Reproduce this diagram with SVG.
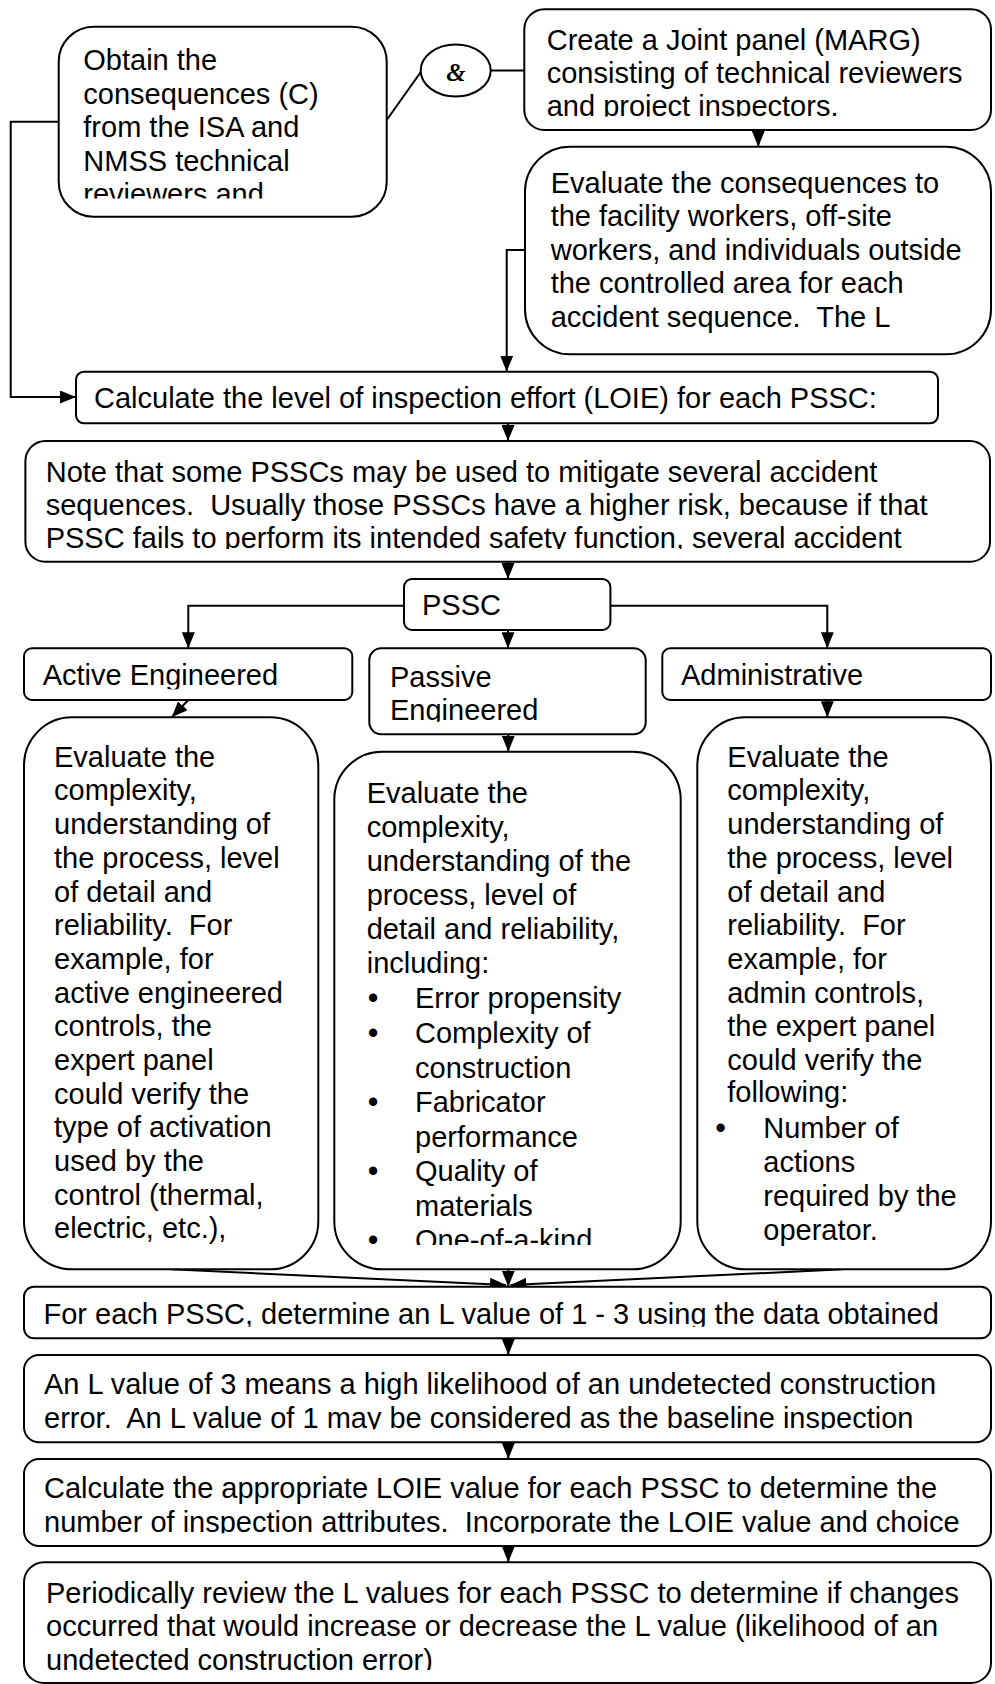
<svg xmlns="http://www.w3.org/2000/svg" width="995" height="1684" viewBox="0 0 995 1684">
<style>
.box{fill:#fff;stroke:#000;stroke-width:2}
.t{font-family:"Liberation Sans",Arial,sans-serif;font-size:29px;fill:#000}
.b{font-weight:bold}
.ln{fill:none;stroke:#000;stroke-width:2}
.ar{fill:none;stroke:#000;stroke-width:2;marker-end:url(#ah)}
</style>
<defs>
<marker id="ah" markerWidth="16" markerHeight="13" refX="16" refY="6.5" orient="auto" markerUnits="userSpaceOnUse"><path d="M0,0 L16,6.5 L0,13 z" fill="#000"/></marker>
<clipPath id="cObtain"><rect x="58" y="26" width="330" height="172.5"/></clipPath>
<clipPath id="cCreate"><rect x="524" y="9" width="468" height="107.5"/></clipPath>
<clipPath id="cNote"><rect x="25" y="441" width="966" height="108"/></clipPath>
<clipPath id="cActive"><rect x="24" y="648" width="329" height="41.3"/></clipPath>
<clipPath id="cPassive"><rect x="369" y="648" width="277" height="73.7"/></clipPath>
<clipPath id="cPassEval"><rect x="334" y="751" width="347" height="494"/></clipPath>
<clipPath id="cForEach"><rect x="24" y="1286" width="967" height="40.7"/></clipPath>
<clipPath id="cAnL"><rect x="24" y="1355" width="967" height="74.3"/></clipPath>
<clipPath id="cCalcApp"><rect x="24" y="1459" width="967" height="74.3"/></clipPath>
<clipPath id="cPeriodic"><rect x="24" y="1562" width="967" height="108"/></clipPath>
</defs>
<rect x="0" y="0" width="995" height="1684" fill="#fff"/>

<g id="connectors">
<path class="ln" d="M386.7,120 L421.5,71"/>
<path class="ln" d="M490.7,70.5 H524.3"/>
<path class="ar" d="M758.3,130 V146.7"/>
<path class="ar" d="M525,250 H506.7 V371.7"/>
<path class="ar" d="M58.7,121.7 H10.7 V397 H76"/>
<path class="ar" d="M508,423.3 V441"/>
<path class="ar" d="M508,561.7 V579"/>
<path class="ar" d="M404,605.7 H188.3 V648.3"/>
<path class="ar" d="M508,630 V648.3"/>
<path class="ar" d="M610.4,605.7 H827.3 V648.3"/>
<path class="ar" d="M188.3,700 L171.7,717.3"/>
<path class="ar" d="M508.3,734.3 V751.7"/>
<path class="ar" d="M827.3,700 V717.3"/>
<path class="ar" d="M171,1269.3 L506,1285"/>
<path class="ar" d="M508.3,1269.3 V1286.7"/>
<path class="ar" d="M843.3,1269.3 L510.5,1285"/>
<path class="ar" d="M508.3,1338.3 V1355"/>
<path class="ar" d="M508.3,1442.3 V1459"/>
<path class="ar" d="M508.3,1546 V1562.3"/>
</g>

<g id="obtain">
<rect class="box" x="58.7" y="26.7" width="328" height="190" rx="35"/>
<text class="t" clip-path="url(#cObtain)"><tspan x="83.3" y="70">Obtain the</tspan><tspan x="83.3" y="103.5">consequences (C)</tspan><tspan x="83.3" y="137">from the ISA and</tspan><tspan x="83.3" y="170.5">NMSS technical</tspan><tspan x="83.3" y="204">reviewers and</tspan></text>
</g>

<g id="and">
<ellipse class="box" cx="455.7" cy="70.5" rx="35" ry="26"/>
<text x="456" y="81" text-anchor="middle" style="font-family:'Liberation Serif',serif;font-style:italic;font-weight:bold;font-size:25px;fill:#000">&amp;</text>
</g>

<g id="create">
<rect class="box" x="524.3" y="9.3" width="466.7" height="120.7" rx="20"/>
<text class="t" clip-path="url(#cCreate)"><tspan x="546.7" y="49.8">Create a Joint panel (MARG)</tspan><tspan x="546.7" y="83">consisting of technical reviewers</tspan><tspan x="546.7" y="116">and project inspectors.</tspan></text>
</g>

<g id="evalc">
<rect class="box" x="525" y="146.7" width="466" height="207.6" rx="45"/>
<text class="t"><tspan x="550.7" y="192.7">Evaluate the consequences to</tspan><tspan x="550.7" y="226.2">the facility workers, off-site</tspan><tspan x="550.7" y="259.7">workers, and individuals outside</tspan><tspan x="550.7" y="293.2">the controlled area for each</tspan><tspan x="550.7" y="326.7">accident sequence.&#160; The L</tspan></text>
</g>

<g id="calc">
<rect class="box" x="76" y="371.7" width="862" height="51.6" rx="8"/>
<text class="t" x="94" y="408">Calculate the level of inspection effort (LOIE) for each PSSC:</text>
</g>

<g id="note">
<rect class="box" x="25.4" y="441" width="964.6" height="120.7" rx="20"/>
<text class="t" clip-path="url(#cNote)"><tspan x="45.7" y="481.7">Note that some PSSCs may be used to mitigate several accident</tspan><tspan x="45.7" y="515.2">sequences.&#160; Usually those PSSCs have a higher risk, because if that</tspan><tspan x="45.7" y="548.3">PSSC fails to perform its intended safety function, several accident</tspan></text>
</g>

<g id="pssc">
<rect class="box" x="404" y="579" width="206.4" height="51" rx="8"/>
<text class="t" x="422" y="615">PSSC</text>
</g>

<g id="active">
<rect class="box" x="24" y="648.3" width="328.3" height="51.7" rx="8"/>
<text class="t" x="42.7" y="685" clip-path="url(#cActive)">Active Engineered</text>
</g>

<g id="passive">
<rect class="box" x="369.3" y="648.3" width="276.4" height="86" rx="12"/>
<text class="t" clip-path="url(#cPassive)"><tspan x="390" y="686.7">Passive</tspan><tspan x="390" y="720">Engineered</tspan></text>
</g>

<g id="admin">
<rect class="box" x="662.3" y="648.3" width="328.7" height="51.7" rx="8"/>
<text class="t" x="681" y="685">Administrative</text>
</g>

<g id="active-eval">
<rect class="box" x="24" y="717.3" width="294.3" height="552" rx="48"/>
<text class="t"><tspan x="54" y="766.7">Evaluate the</tspan><tspan x="54" y="800.4">complexity,</tspan><tspan x="54" y="834.1">understanding of</tspan><tspan x="54" y="867.8">the process, level</tspan><tspan x="54" y="901.5">of detail and</tspan><tspan x="54" y="935.2">reliability.&#160; For</tspan><tspan x="54" y="968.8">example, for</tspan><tspan x="54" y="1002.5">active engineered</tspan><tspan x="54" y="1036.2">controls, the</tspan><tspan x="54" y="1069.9">expert panel</tspan><tspan x="54" y="1103.6">could verify the</tspan><tspan x="54" y="1137.3">type of activation</tspan><tspan x="54" y="1171">used by the</tspan><tspan x="54" y="1204.7">control (thermal,</tspan><tspan x="54" y="1238.3">electric, etc.),</tspan></text>
</g>

<g id="passive-eval">
<rect class="box" x="334.3" y="751.7" width="346.4" height="517.6" rx="48"/>
<text class="t" clip-path="url(#cPassEval)"><tspan x="366.7" y="803.3">Evaluate the</tspan><tspan x="366.7" y="837.2">complexity,</tspan><tspan x="366.7" y="871.1">understanding of the</tspan><tspan x="366.7" y="905">process, level of</tspan><tspan x="366.7" y="938.9">detail and reliability,</tspan><tspan x="366.7" y="972.7">including:</tspan><tspan class="b" x="368" y="1008.3">•</tspan><tspan x="415" y="1008.3">Error propensity</tspan><tspan class="b" x="368" y="1042.9">•</tspan><tspan x="415" y="1042.9">Complexity of</tspan><tspan x="415" y="1077.5">construction</tspan><tspan class="b" x="368" y="1112">•</tspan><tspan x="415" y="1112">Fabricator</tspan><tspan x="415" y="1146.6">performance</tspan><tspan class="b" x="368" y="1181.2">•</tspan><tspan x="415" y="1181.2">Quality of</tspan><tspan x="415" y="1215.7">materials</tspan><tspan class="b" x="368" y="1250.3">•</tspan><tspan x="415" y="1250.3">One-of-a-kind</tspan></text>
</g>

<g id="admin-eval">
<rect class="box" x="697.3" y="717.3" width="293.7" height="552" rx="48"/>
<text class="t"><tspan x="727.3" y="766.7">Evaluate the</tspan><tspan x="727.3" y="800.4">complexity,</tspan><tspan x="727.3" y="834.1">understanding of</tspan><tspan x="727.3" y="867.8">the process, level</tspan><tspan x="727.3" y="901.5">of detail and</tspan><tspan x="727.3" y="935.2">reliability.&#160; For</tspan><tspan x="727.3" y="968.8">example, for</tspan><tspan x="727.3" y="1002.5">admin controls,</tspan><tspan x="727.3" y="1036.2">the expert panel</tspan><tspan x="727.3" y="1069.9">could verify the</tspan><tspan x="727.3" y="1102">following:</tspan><tspan class="b" x="715.4" y="1138.3">•</tspan><tspan x="763.3" y="1138.3">Number of</tspan><tspan x="763.3" y="1172">actions</tspan><tspan x="763.3" y="1206.3">required by the</tspan><tspan x="763.3" y="1240">operator.</tspan></text>
</g>

<g id="foreach">
<rect class="box" x="24" y="1286.7" width="967" height="51.6" rx="10"/>
<text class="t" x="43.5" y="1324" clip-path="url(#cForEach)">For each PSSC, determine an L value of 1 - 3 using the data obtained</text>
</g>

<g id="lvalue">
<rect class="box" x="24" y="1355" width="967" height="87.3" rx="15"/>
<text class="t" clip-path="url(#cAnL)"><tspan x="44" y="1394">An L value of 3 means a high likelihood of an undetected construction</tspan><tspan x="44" y="1427.5">error.&#160; An L value of 1 may be considered as the baseline inspection</tspan></text>
</g>

<g id="calc-loie">
<rect class="box" x="24" y="1459" width="967" height="87" rx="15"/>
<text class="t" clip-path="url(#cCalcApp)"><tspan x="44" y="1498.3">Calculate the appropriate LOIE value for each PSSC to determine the</tspan><tspan x="44" y="1531.8">number of inspection attributes.&#160; Incorporate the LOIE value and choice</tspan></text>
</g>

<g id="periodic">
<rect class="box" x="24" y="1562.3" width="967" height="120.7" rx="20"/>
<text class="t" clip-path="url(#cPeriodic)"><tspan x="46" y="1602.8">Periodically review the L values for each PSSC to determine if changes</tspan><tspan x="46" y="1636.2">occurred that would increase or decrease the L value (likelihood of an</tspan><tspan x="46" y="1669.6">undetected construction error)</tspan></text>
</g>
</svg>
